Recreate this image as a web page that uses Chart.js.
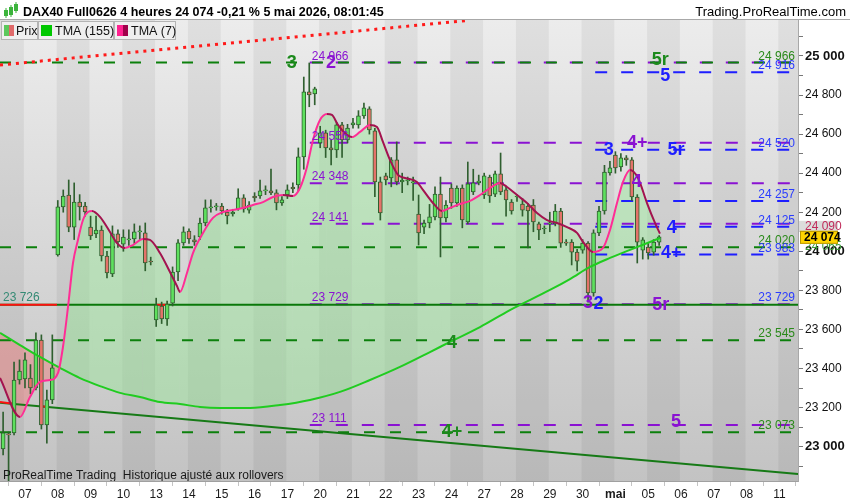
<!DOCTYPE html>
<html><head><meta charset="utf-8">
<script src="https://cdn.jsdelivr.net/npm/chart.js@4.4.1/dist/chart.umd.min.js"></script>
<style>html,body{margin:0;padding:0;background:#fff;overflow:hidden}#wrap{width:850px;height:500px;position:relative}</style>
</head><body><div id="wrap"><canvas id="c" width="850" height="500"></canvas></div>
<script>
// ---------- DATA ----------
const dayLabels = ['07','08','09','10','13','14','15','16','17','20','21','22','23','24','27','28','29','30','mai','05','06','07','08','11'];
const firstBar = -4; // index of first visible 4h bar (bars before 7 avril)
const opens = [22988,23065,23070,23341,23346,23351,23300,23546,23111,23239,
 23981,24227,24288,24124,24252,24232,
 24124,24089,24109,23976,23884,24089,
 24037,24058,24063,24099,24094,23950,
 23648,23720,23654,23735,23894,24043,
 24104,24058,24073,24145,24222,24227,
 24232,24201,24191,24217,24273,24211,
 24283,24283,24309,24309,24299,24247,
 24288,24329,24340,24483,24816,24806,
 24555,24606,24529,24519,24647,24570,
 24647,24647,24693,24729,24616,24355,
 24386,24375,24468,24355,24360,24350,
 24191,24124,24145,24176,24293,24171,
 24324,24247,24324,24150,24304,24350,
 24288,24380,24293,24396,24314,24252,
 24278,24242,24232,24237,24140,24114,
 24140,24140,24206,24047,24047,23996,
 24006,24042,23787,24094,24206,24401,
 24493,24432,24478,24468,24278,24006,
 24022,23996,24047];
const closes = [23070,23060,23341,23387,23444,23300,23546,23111,23239,23403,
 24227,24283,24124,24252,24227,24201,
 24078,24109,23976,23889,24089,24048,
 24073,24063,24099,24099,23940,23945,
 23725,23654,23730,23894,24043,24099,
 24063,24048,24145,24222,24227,24232,
 24206,24181,24201,24273,24217,24237,
 24273,24309,24309,24299,24247,24263,
 24314,24319,24483,24816,24800,24831,
 24606,24529,24519,24647,24570,24631,
 24657,24693,24734,24621,24355,24196,
 24365,24468,24355,24365,24360,24350,
 24094,24145,24176,24293,24171,24237,
 24247,24324,24160,24345,24350,24360,
 24386,24283,24396,24304,24263,24206,
 24278,24211,24206,24150,24109,24114,
 24140,24206,24042,24042,23996,23950,
 24042,23787,24094,24206,24406,24427,
 24427,24478,24468,24278,24047,24058,
 23991,24047,24074];
const highs = [23177,23075,23433,23444,23480,23420,23582,23572,23290,23572,
 24260,24314,24365,24350,24290,24250,
 24180,24180,24130,24000,24130,24110,
 24110,24110,24140,24130,24145,23970,
 23760,23740,23745,23920,24060,24125,
 24115,24080,24170,24263,24263,24245,
 24245,24215,24215,24320,24290,24255,
 24300,24365,24335,24421,24315,24280,
 24340,24350,24529,24892,24964,24840,
 24640,24620,24570,24660,24660,24650,
 24680,24720,24759,24740,24630,24380,
 24400,24480,24560,24400,24380,24380,
 24288,24160,24240,24330,24380,24260,
 24345,24335,24340,24457,24420,24390,
 24400,24390,24410,24503,24330,24265,
 24290,24270,24245,24265,24150,24130,
 24200,24240,24220,24060,24060,24010,
 24060,24050,24110,24230,24440,24460,
 24510,24500,24490,24480,24290,24070,
 24040,24060,24080];
const lows = [22957,22790,23060,23320,23300,23270,23290,23090,23018,23220,
 23975,24200,24100,24060,24160,24180,
 24060,24070,23950,23863,23870,24020,
 24000,24030,24040,24060,23900,23930,
 23615,23630,23620,23720,23850,24030,
 24040,24030,24060,24130,24200,24210,
 24190,24140,24180,24210,24200,24195,
 24255,24270,24290,24290,24212,24235,
 24270,24300,24310,24420,24740,24750,
 24530,24480,24442,24480,24480,24555,
 24630,24630,24680,24600,24280,24160,
 24340,24330,24340,24300,24340,24260,
 24032,24090,24120,24160,23971,24150,
 24220,24230,24120,24140,24290,24340,
 24270,24250,24280,24290,24180,24190,
 24255,24180,24017,24100,24060,24090,
 24100,24130,24020,24030,23930,23900,
 23990,23740,23770,24080,24190,24390,
 24400,24410,24440,24260,23940,23960,
 23960,23980,24030];

const tma7Bar = [-4.57,-0.91,0.91,2.74,4.57,6.04,6.95,7.87,8.78,9.69,10.61,11.52,12.26,13.72,15.55,16.83,18.29,19.75,21.58,22.86,24.69,26.52,27.80,28.35,29.63,30.73,32.56,34.39,36.22,38.05,39.88,41.71,43.54,45.37,47.19,49.02,50.30,51.58,52.68,53.96,55.24,56.15,57.25,58.90,59.81,61.28,63.11,64.39,65.48,66.76,68.23,69.51,71.70,72.80,74.63,76.28,77.74,79.57,81.40,83.23,85.06,86.89,88.17,90.0,91.83,93.66,95.49,97.32,99.15,100.98,102.07,103.90,105.73,107.01,108.29,109.39,110.67,112.13,113.78,115.24,116.15];
const tma7Val = [23351,23152,23254,23331,23341,23377,23510,23715,23940,24058,24160,24201,24206,24176,24099,24042,24017,24032,24063,24058,23991,23894,23822,23792,23889,23991,24094,24171,24201,24212,24222,24237,24252,24278,24288,24283,24324,24432,24570,24672,24703,24698,24647,24596,24585,24611,24647,24636,24560,24468,24391,24375,24355,24314,24247,24206,24222,24242,24258,24288,24324,24350,24329,24288,24247,24196,24160,24145,24124,24094,24048,23996,24017,24109,24247,24355,24416,24375,24247,24145,24090];
const tma155Bar = [-4.57,-0.91,2.74,6.40,10.06,13.72,17.38,21.04,24.69,28.35,32.01,35.67,41.16,46.64,52.13,57.62,63.11,68.59,74.08,77.74,83.23,88.71,96.03,99.69,103.35,107.01,110.67,116.15];
const tma155Val = [23582,23520,23459,23403,23351,23310,23275,23254,23228,23218,23203,23198,23198,23213,23239,23280,23341,23408,23484,23536,23612,23699,23802,23858,23920,23966,24007,24068];

const greenLevels = [24966,24020,23545,23073];
const purpleLevels = [24966,24556,24348,24141,23729,23111];
const blueLevels = [24916,24520,24257,24125,23983];
const greenStart = -4.57, purpleStart = 52.1, blueStart = 104.3, levelEnd = 140.5;
const supportLevel = 23726;
const supportRedFrom = [-4.57, 24.1], supportRedTo = [5.85, 25.9];
const trendBars = [-4.57, 141.4], trendVals = [23225, 22860];
const trendRedBars = [[-4.57,-1.83],[2.9,4.0]], trendRedVals = [[23228,23218],[23208,23203]];
const redDotBars = [-4.57, 80.5], redDotVals = [24954, 25180];

const waveTexts = ['3','2','5r','5','3','4+','5r','4','4','4+','3','2','5r','4','4+','5'];
const waveBars  = [48.8,56.0,116.2,117.1,106.8,112.0,119.1,111.9,118.3,118.2,103.0,104.9,116.3,78.1,78.1,119.1];
const waveVals  = [24964,24964,24980,24898,24519,24555,24519,24355,24119,23991,23735,23730,23725,23531,23075,23126];
const waveKinds = ['green','purple','green','blue','blue','purple','blue','purple','blue','blue','purple','blue','purple','green','green','purple'];

const lastPrice = 24074, lastTma7 = 24090, lastTma155 = 24065;
const yMin = 22824, yMax = 25184, xMin = -4.57, xMax = 141.4;

// ---------- STYLE ----------
const F = '"Liberation Sans", Arial, sans-serif';
const COL = {green:'#0c800c', purple:'#8a12d2', blue:'#1e1eff', waveGreen:'#1d8a1d'};
const fmt = v => String(Math.round(v)).replace(/\B(?=(\d{3})+(?!\d))/g, ' ');
const barIdx = opens.map((_, i) => firstBar + i);

function lineDS(xs, ys, opts) {
  return Object.assign({type:'line', data: xs.map((x, i) => ({x, y: ys[i]})), pointRadius:0, borderWidth:2, fill:false, tension:0}, opts);
}

const datasets = [];
datasets.push(lineDS(tma155Bar, tma155Val, {borderColor:'#20cc20', borderWidth:2, cubicInterpolationMode:'monotone', order:-2}));
datasets.push(lineDS(tma7Bar, tma7Val, {
  borderColor:'#ff2d95', borderWidth:2, cubicInterpolationMode:'monotone', order:-3,
  fill:{target:0, above:'rgba(150,232,150,0.45)', below:'rgba(240,120,120,0.45)'},
  segment:{borderColor: c => c.p1.parsed.y >= c.p0.parsed.y ? '#ff2d95' : '#a3134f'}
}));
// candles
datasets.push({type:'bar', data: barIdx.map((x, i) => ({x, y:[lows[i], highs[i]]})), backgroundColor:'#2f5f2f', borderWidth:0, barThickness:1, grouped:false, order:2});
datasets.push({type:'bar', data: barIdx.map((x, i) => ({x, y:[opens[i], closes[i]]})),
  backgroundColor: barIdx.map((_, i) => closes[i] >= opens[i] ? '#5ee05e' : '#e4736a'),
  borderColor:'#2f5f2f', borderWidth:1, borderSkipped:false, barThickness:4, minBarLength:1, grouped:false, order:1});
// levels
greenLevels.forEach(v => datasets.push(lineDS([greenStart, levelEnd], [v, v], {borderColor:COL.green, borderDash:[11,15], order:5})));
purpleLevels.forEach(v => datasets.push(lineDS([purpleStart, levelEnd], [v, v], {borderColor:COL.purple, borderDash:[12,14], order:5})));
blueLevels.forEach(v => datasets.push(lineDS([blueStart, levelEnd], [v, v], {borderColor:COL.blue, borderDash:[12,14], order:5})));
datasets.push(lineDS([xMin, xMax], [supportLevel, supportLevel], {borderColor:'#0a780a', order:4}));
supportRedFrom.forEach((f, i) => datasets.push(lineDS([f, supportRedTo[i]], [supportLevel, supportLevel], {borderColor:'#ff1010', order:3})));
datasets.push(lineDS(trendBars, trendVals, {borderColor:'#167a16', order:4}));
trendRedBars.forEach((b, i) => datasets.push(lineDS(b, trendRedVals[i], {borderColor:'#ff1010', order:3})));
datasets.push(lineDS(redDotBars, redDotVals, {borderColor:'#ff1a1a', borderWidth:3, borderDash:[3,5], order:3}));

const deco = {
  id:'deco',
  beforeDraw(chart) {
    const {ctx, chartArea:a, scales:{x}} = chart;
    ctx.save();
    ctx.fillStyle = '#fff'; ctx.fillRect(0, 0, chart.width, chart.height);
    const g = ctx.createLinearGradient(0, a.top, 0, a.bottom);
    g.addColorStop(0, '#ececec'); g.addColorStop(1, '#c3c3c3');
    ctx.fillStyle = g; ctx.fillRect(a.left, a.top, a.right - a.left, a.bottom - a.top);
    ctx.fillStyle = 'rgba(0,0,0,0.055)';
    for (let d = -1; d < 25; d++) {
      if (Math.abs(d % 2) !== 1) continue;
      let x0 = Math.max(a.left, x.getPixelForValue(6 * d - 0.2));
      let x1 = Math.min(a.right, x.getPixelForValue(6 * (d + 1) - 0.2));
      if (x1 > x0) ctx.fillRect(x0, a.top, x1 - x0, a.bottom - a.top);
    }
    ctx.restore();
  },
  afterDatasetsDraw(chart) {
    const {ctx, chartArea:a, scales:{x, y}} = chart;
    ctx.save();
    ctx.beginPath(); ctx.rect(a.left, a.top, a.right - a.left, a.bottom - a.top); ctx.clip();
    ctx.font = '12px ' + F; ctx.textBaseline = 'alphabetic';
    // left purple level labels
    ctx.textAlign = 'left'; ctx.fillStyle = COL.purple;
    purpleLevels.forEach(v => ctx.fillText(fmt(v), x.getPixelForValue(purpleStart) + 2, y.getPixelForValue(v) - 3));
    // right labels
    ctx.textAlign = 'right';
    ctx.fillStyle = '#2a8a1a';
    greenLevels.forEach(v => ctx.fillText(fmt(v), a.right - 3, y.getPixelForValue(v) - 3));
    ctx.fillStyle = '#2a3cff';
    blueLevels.forEach(v => ctx.fillText(fmt(v), a.right - 3, y.getPixelForValue(v) - 3));
    ctx.fillText(fmt(purpleLevels[4]), a.right - 3, y.getPixelForValue(purpleLevels[4]) - 3);
    // support label
    ctx.textAlign = 'left'; ctx.fillStyle = '#348a74';
    ctx.fillText(fmt(supportLevel), a.left + 3, y.getPixelForValue(supportLevel) - 4);
    // wave labels
    ctx.font = 'bold 18px ' + F; ctx.textAlign = 'center'; ctx.textBaseline = 'middle';
    const wc = {green:COL.waveGreen, purple:COL.purple, blue:COL.blue};
    waveTexts.forEach((t, i) => {
      ctx.fillStyle = wc[waveKinds[i]];
      ctx.fillText(t, x.getPixelForValue(waveBars[i]), y.getPixelForValue(waveVals[i]));
    });
    // footer text
    ctx.font = '12px ' + F; ctx.textAlign = 'left'; ctx.textBaseline = 'alphabetic'; ctx.fillStyle = '#1a1a1a';
    ctx.fillText('ProRealTime Trading  Historique ajusté aux rollovers', a.left + 3, a.bottom - 2);
    ctx.restore();
  },
  afterDraw(chart) {
    const {ctx, chartArea:a, scales:{y}} = chart;
    ctx.save();
    // title bar
    ctx.strokeStyle = '#a8a8a8'; ctx.lineWidth = 1;
    ctx.beginPath(); ctx.moveTo(0, a.top - 0.5); ctx.lineTo(chart.width, a.top - 0.5); ctx.stroke();
    // icon
    ctx.fillStyle = '#3cb43c';
    [[4,10,4,6],[9,7,4,8],[14,4,4,7]].forEach(r => { ctx.fillRect(r[0], r[1], r[2], r[3]); ctx.fillRect(r[0] + 1.5, r[1] - 2, 1, r[3] + 4); });
    ctx.font = 'bold 12.5px ' + F; ctx.fillStyle = '#000'; ctx.textAlign = 'left'; ctx.textBaseline = 'alphabetic';
    ctx.fillText('DAX40 Full0626 4 heures ' + fmt(lastPrice) + ' -0,21 % 5 mai 2026, 08:01:45', 23, 16);
    ctx.font = '13px ' + F; ctx.textAlign = 'right';
    ctx.fillText('Trading.ProRealTime.com', chart.width - 4, 16);
    // legend
    const boxes = [[1,37,'Prix'],[38,113,'TMA (155)'],[114,175,'TMA (7)']];
    boxes.forEach(b => {
      ctx.fillStyle = '#efefef'; ctx.fillRect(b[0], a.top + 1, b[1] - b[0], 18);
      ctx.strokeStyle = '#b4b4b4'; ctx.strokeRect(b[0] + 0.5, a.top + 1.5, b[1] - b[0], 18);
    });
    const iy = a.top + 5;
    ctx.fillStyle = '#5cc85c'; ctx.fillRect(4, iy, 5, 11); ctx.fillStyle = '#e06a6a'; ctx.fillRect(9, iy, 5, 11);
    ctx.fillStyle = '#00c800'; ctx.fillRect(41, iy, 11, 11);
    ctx.fillStyle = '#ff2290'; ctx.fillRect(117, iy, 6, 11); ctx.fillStyle = '#a0004a'; ctx.fillRect(123, iy, 5, 11);
    ctx.font = '12.5px ' + F; ctx.fillStyle = '#111'; ctx.textAlign = 'left';
    ctx.fillText('Prix', 16, a.top + 15); ctx.fillText('TMA (155)', 55, a.top + 15); ctx.fillText('TMA (7)', 131, a.top + 15);
    // right axis value boxes
    const yp = y.getPixelForValue(lastPrice);
    ctx.font = '12px ' + F; ctx.textBaseline = 'middle';
    ctx.fillStyle = '#3a9a3a'; ctx.fillText(fmt(lastTma155), a.right + 7, yp + 10);
    ctx.fillStyle = '#dcdcdc'; ctx.fillRect(a.right + 1, yp - 16, 39, 11);
    ctx.fillStyle = '#c02a5a'; ctx.fillText(fmt(lastTma7), a.right + 7, yp - 10.5);
    ctx.fillStyle = '#ffd400'; ctx.fillRect(a.right + 2, yp - 6, 38, 13);
    ctx.strokeStyle = '#b89600'; ctx.strokeRect(a.right + 2.5, yp - 5.5, 37, 12);
    ctx.fillStyle = '#000'; ctx.font = 'bold 12px ' + F; ctx.fillText(fmt(lastPrice), a.right + 6, yp + 0.5);
    ctx.restore();
  }
};

new Chart(document.getElementById('c'), {
  type:'line',
  data:{datasets},
  plugins:[deco],
  options:{
    responsive:false, animation:false, events:[],
    layout:{padding:{top:20, left:0, right:0, bottom:0}},
    plugins:{legend:{display:false}, tooltip:{enabled:false}, filler:{drawTime:'beforeDatasetsDraw'}},
    scales:{
      x:{type:'linear', min:xMin, max:xMax, offset:false,
        grid:{display:true, drawOnChartArea:false, drawTicks:true, tickLength:5, color:'#c4c4c4'},
        border:{display:true, color:'#a0a0a0'},
        afterBuildTicks: s => { s.ticks = dayLabels.map((_, d) => ({value: 6 * d})); },
        afterFit: s => { s.height = 19; },
        ticks:{autoSkip:false, maxRotation:0, padding:1, color:'#1a1a1a',
          font: c => ({family:F, size:12, weight: (c.tick && dayLabels[Math.round(c.tick.value / 6)] === 'mai') ? 'bold' : 'normal'}),
          callback: (v, i) => dayLabels[i]}
      },
      y:{type:'linear', position:'right', min:yMin, max:yMax, beginAtZero:false,
        grid:{display:true, drawOnChartArea:false, drawTicks:true, tickLength:5, color:'#777'},
        border:{display:true, color:'#a8a8a8'},
        afterBuildTicks: s => { const t = []; for (let v = 22900; v <= 25100; v += 100) t.push({value:v}); s.ticks = t; },
        afterFit: s => { s.width = 52; },
        ticks:{autoSkip:false, padding:2, color:'#111',
          font: c => ({family:F, size: (c.tick && c.tick.value % 1000 === 0) ? 13 : 12, weight: (c.tick && c.tick.value % 1000 === 0) ? 'bold' : 'normal'}),
          callback: v => v % 200 === 0 ? fmt(v) : ''}
      }
    }
  }
});
</script></body></html>
